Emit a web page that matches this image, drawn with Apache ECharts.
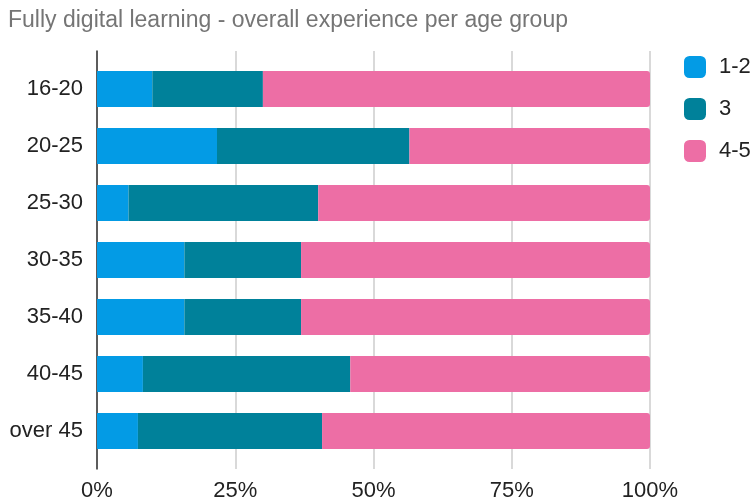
<!DOCTYPE html>
<html>
<head>
<meta charset="utf-8">
<script src="https://cdn.jsdelivr.net/npm/echarts@6/dist/echarts.min.js"></script>
<style>html,body{margin:0;padding:0;background:#fff}#c{width:750px;height:502px}</style>
</head>
<body>
<div id="c"></div>
<script>
const categories = ['16-20', '20-25', '25-30', '30-35', '35-40', '40-45', 'over 45'];
const seriesNames = ['1-2', '3', '4-5'];
const values12 = [10.0, 21.7, 5.7, 15.8, 15.8, 8.3, 7.4];
const values3 = [20.0, 34.8, 34.3, 21.1, 21.1, 37.5, 33.3];
const values45 = [70.0, 43.5, 60.0, 63.1, 63.1, 54.2, 59.3];
const tickValues = [0, 25, 50, 75, 100];
const colors = ['#039be5', '#00819a', '#ed6ea5'];

const chart = echarts.init(document.getElementById('c'), null, {renderer: 'canvas'});
const font = 'Liberation Sans, Arial, sans-serif';
const mk = (name, data, i, radius) => ({
  name: name, type: 'bar', stack: 'all', data: data,
  xAxisIndex: 1, yAxisIndex: 1, barWidth: 36,
  itemStyle: {color: colors[i], borderRadius: radius},
  emphasis: {disabled: true}
});
chart.setOption({
  animation: false,
  textStyle: {fontFamily: font},
  title: {
    text: 'Fully digital learning - overall experience per age group',
    left: 3, top: 4,
    textStyle: {fontFamily: font, fontSize: 23, fontWeight: 'normal', color: '#757575'}
  },
  legend: {
    orient: 'vertical', left: 679, top: 51,
    itemWidth: 22, itemHeight: 22, itemGap: 20,
    icon: 'roundRect',
    textStyle: {fontFamily: font, fontSize: 22, color: '#222', padding: [0, 0, 0, 8]},
    data: seriesNames
  },
  grid: [
    {left: 97, right: 100, top: 51, bottom: 33},
    {left: 97, right: 100, top: 60.5, bottom: 42.5}
  ],
  xAxis: [
    {
      gridIndex: 0, type: 'value', min: 0, max: 100, interval: 25,
      axisLine: {show: false}, axisTick: {show: false},
      splitLine: {show: true, lineStyle: {color: '#cccccc', width: 1.5}},
      axisLabel: {
        margin: 11, fontSize: 22, color: '#222', fontFamily: font,
        formatter: v => tickValues.includes(v) ? v + '%' : ''
      }
    },
    {
      gridIndex: 1, type: 'value', min: 0, max: 100, show: false
    }
  ],
  yAxis: [
    {
      gridIndex: 0, type: 'value', min: 0, max: 1,
      axisLine: {show: true, lineStyle: {color: '#333', width: 1.5}},
      axisTick: {show: false}, axisLabel: {show: false}, splitLine: {show: false}
    },
    {
      gridIndex: 1, type: 'category', data: categories, inverse: true,
      axisLine: {show: false}, axisTick: {show: false},
      axisLabel: {margin: 14, fontSize: 22, color: '#222', fontFamily: font}
    }
  ],
  series: [
    mk(seriesNames[0], values12, 0, 0),
    mk(seriesNames[1], values3, 1, 0),
    mk(seriesNames[2], values45, 2, [0, 3, 3, 0])
  ]
});
</script>
</body>
</html>
